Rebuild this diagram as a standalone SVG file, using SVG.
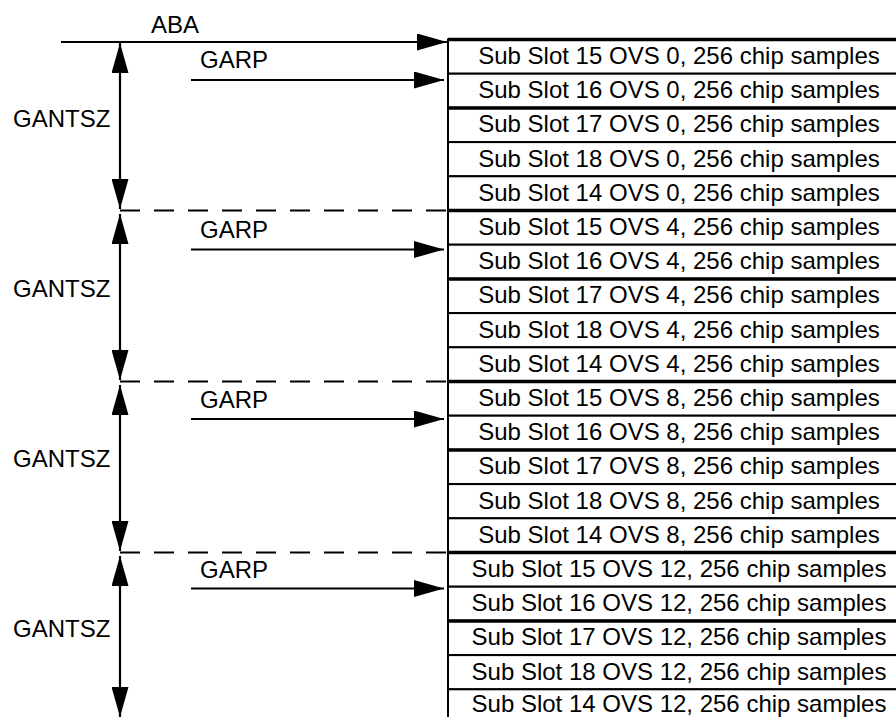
<svg xmlns="http://www.w3.org/2000/svg" width="896" height="717" viewBox="0 0 896 717">
<style>
text{font-family:"Liberation Sans",Arial,sans-serif;font-size:24px;fill:#000}
.row rect{fill:#fff;stroke:#000;stroke-width:2}
.row text{text-anchor:middle}
.thick{stroke:#000;stroke-width:3.5}
.conn line{stroke:#000;stroke-width:2.2;fill:none}
.conn .dash{stroke-dasharray:20 14}
</style>
<defs>
<marker id="ah" viewBox="0 0 30 17" refX="30" refY="8.5" markerWidth="30" markerHeight="17" markerUnits="userSpaceOnUse" orient="auto-start-reverse">
<path d="M0,0 L30,8.5 L0,17 z" fill="#000"/>
</marker>
</defs>
<rect width="896" height="717" fill="#fff"/>
<g id="rows">
<g id="r0" class="row"><rect x="448" y="39.5" width="470" height="34.2"/><line class="thick" x1="448" y1="39.5" x2="896" y2="39.5"/><text x="679" y="64">Sub Slot 15 OVS 0, 256 chip samples</text></g>
<g id="r1" class="row"><rect x="448" y="73.7" width="470" height="34.2"/><text x="679" y="98.2">Sub Slot 16 OVS 0, 256 chip samples</text></g>
<g id="r2" class="row"><rect x="448" y="107.9" width="470" height="34.2"/><line class="thick" x1="448" y1="107.9" x2="896" y2="107.9"/><text x="679" y="132.4">Sub Slot 17 OVS 0, 256 chip samples</text></g>
<g id="r3" class="row"><rect x="448" y="142.1" width="470" height="34.2"/><text x="679" y="166.6">Sub Slot 18 OVS 0, 256 chip samples</text></g>
<g id="r4" class="row"><rect x="448" y="176.3" width="470" height="34.2"/><text x="679" y="200.8">Sub Slot 14 OVS 0, 256 chip samples</text></g>
<g id="r5" class="row"><rect x="448" y="210.5" width="470" height="34.2"/><line class="thick" x1="448" y1="210.5" x2="896" y2="210.5"/><text x="679" y="235">Sub Slot 15 OVS 4, 256 chip samples</text></g>
<g id="r6" class="row"><rect x="448" y="244.7" width="470" height="34.2"/><text x="679" y="269.2">Sub Slot 16 OVS 4, 256 chip samples</text></g>
<g id="r7" class="row"><rect x="448" y="278.9" width="470" height="34.2"/><line class="thick" x1="448" y1="278.9" x2="896" y2="278.9"/><text x="679" y="303.4">Sub Slot 17 OVS 4, 256 chip samples</text></g>
<g id="r8" class="row"><rect x="448" y="313.1" width="470" height="34.2"/><text x="679" y="337.6">Sub Slot 18 OVS 4, 256 chip samples</text></g>
<g id="r9" class="row"><rect x="448" y="347.3" width="470" height="34.2"/><text x="679" y="371.8">Sub Slot 14 OVS 4, 256 chip samples</text></g>
<g id="r10" class="row"><rect x="448" y="381.5" width="470" height="34.2"/><line class="thick" x1="448" y1="381.5" x2="896" y2="381.5"/><text x="679" y="406">Sub Slot 15 OVS 8, 256 chip samples</text></g>
<g id="r11" class="row"><rect x="448" y="415.7" width="470" height="34.2"/><text x="679" y="440.2">Sub Slot 16 OVS 8, 256 chip samples</text></g>
<g id="r12" class="row"><rect x="448" y="449.9" width="470" height="34.2"/><line class="thick" x1="448" y1="449.9" x2="896" y2="449.9"/><text x="679" y="474.4">Sub Slot 17 OVS 8, 256 chip samples</text></g>
<g id="r13" class="row"><rect x="448" y="484.1" width="470" height="34.2"/><text x="679" y="508.6">Sub Slot 18 OVS 8, 256 chip samples</text></g>
<g id="r14" class="row"><rect x="448" y="518.3" width="470" height="34.2"/><text x="679" y="542.8">Sub Slot 14 OVS 8, 256 chip samples</text></g>
<g id="r15" class="row"><rect x="448" y="552.5" width="470" height="34.2"/><line class="thick" x1="448" y1="552.5" x2="896" y2="552.5"/><text x="679" y="577">Sub Slot 15 OVS 12, 256 chip samples</text></g>
<g id="r16" class="row"><rect x="448" y="586.7" width="470" height="34.2"/><text x="679" y="611.2">Sub Slot 16 OVS 12, 256 chip samples</text></g>
<g id="r17" class="row"><rect x="448" y="620.9" width="470" height="34.2"/><line class="thick" x1="448" y1="620.9" x2="896" y2="620.9"/><text x="679" y="645.4">Sub Slot 17 OVS 12, 256 chip samples</text></g>
<g id="r18" class="row"><rect x="448" y="655.1" width="470" height="34.2"/><text x="679" y="679.6">Sub Slot 18 OVS 12, 256 chip samples</text></g>
<g id="r19" class="row"><rect x="448" y="689.3" width="470" height="34.2"/><text x="679" y="711.5">Sub Slot 14 OVS 12, 256 chip samples</text></g>
</g>
<g id="connectors" class="conn">
<line x1="61" y1="42" x2="447" y2="42" marker-end="url(#ah)"/>
<line x1="191" y1="80" x2="444" y2="80" marker-end="url(#ah)"/>
<line x1="191" y1="249.5" x2="444" y2="249.5" marker-end="url(#ah)"/>
<line x1="191" y1="419" x2="444" y2="419" marker-end="url(#ah)"/>
<line x1="191" y1="588.5" x2="444" y2="588.5" marker-end="url(#ah)"/>
<line x1="120" y1="43" x2="120" y2="209" marker-start="url(#ah)" marker-end="url(#ah)"/>
<line x1="120" y1="214" x2="120" y2="380" marker-start="url(#ah)" marker-end="url(#ah)"/>
<line x1="120" y1="385" x2="120" y2="551" marker-start="url(#ah)" marker-end="url(#ah)"/>
<line x1="120" y1="556" x2="120" y2="717" marker-start="url(#ah)" marker-end="url(#ah)"/>
<line class="dash" x1="120" y1="210.5" x2="448" y2="210.5"/>
<line class="dash" x1="120" y1="381.5" x2="448" y2="381.5"/>
<line class="dash" x1="120" y1="552.5" x2="448" y2="552.5"/>
</g>
<g id="labels">
<text x="151" y="33">ABA</text>
<text x="200" y="68">GARP</text>
<text x="200" y="238">GARP</text>
<text x="200" y="408">GARP</text>
<text x="200" y="578">GARP</text>
<text x="13" y="127">GANTSZ</text>
<text x="13" y="297">GANTSZ</text>
<text x="13" y="467">GANTSZ</text>
<text x="13" y="637">GANTSZ</text>
</g>
</svg>
